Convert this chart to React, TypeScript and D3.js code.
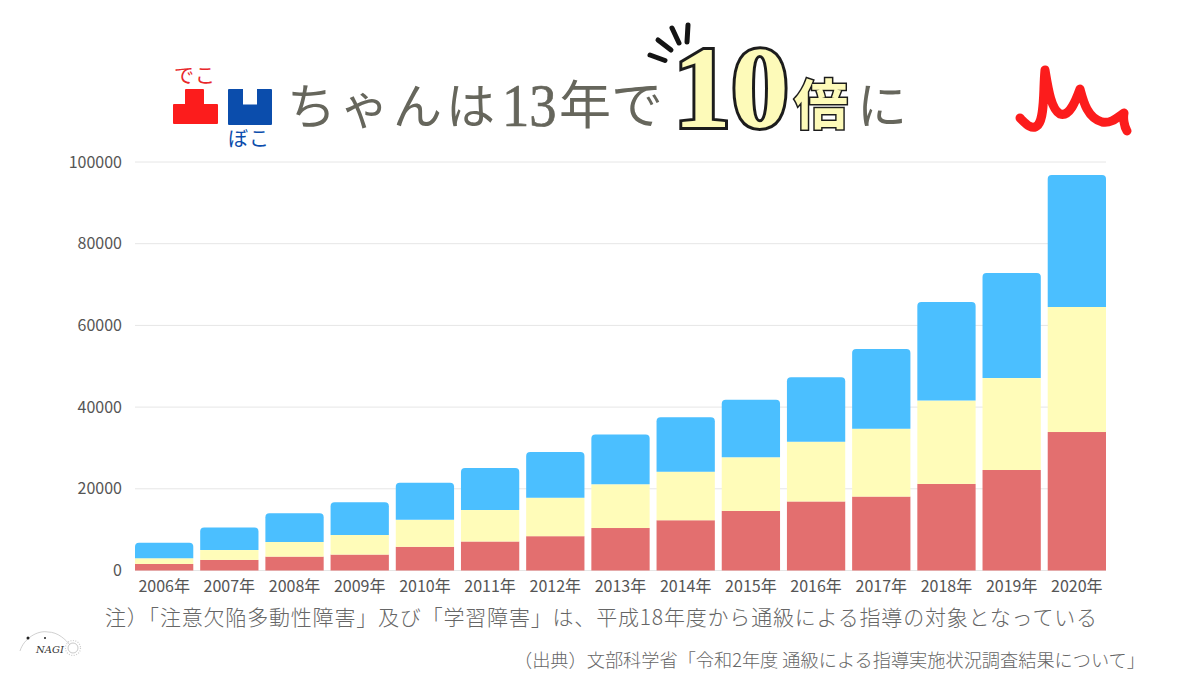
import React, { useRef, useEffect } from 'react';
import * as d3 from 'd3';

const YEARS = ["2006年", "2007年", "2008年", "2009年", "2010年", "2011年", "2012年", "2013年", "2014年", "2015年", "2016年", "2017年", "2018年", "2019年", "2020年"];
const SERIES_KEYS = ["red", "yellow", "blue"];
const RED_VALUES = [1600, 2600, 3400, 3900, 5800, 7100, 8400, 10400, 12300, 14600, 16900, 18100, 21200, 24600, 33900];
const YELLOW_VALUES = [1400, 2400, 3600, 4800, 6600, 7700, 9400, 10700, 11900, 13100, 14600, 16600, 20400, 22500, 30600];
const BLUE_VALUES = [3800, 5500, 7000, 8000, 9100, 10300, 11200, 12200, 13300, 14100, 15800, 19500, 24100, 25700, 32300];
const Y_TICKS = [0, 20000, 40000, 60000, 80000, 100000];

const COLORS: { [key: string]: string } = {
    red: "#e36f6f",
    yellow: "#fffcb9",
    blue: "#4bbfff"
};

const SANS = "'Noto Sans CJK JP', 'Noto Sans', sans-serif";
const SERIF = "'Liberation Serif', 'Noto Sans CJK JP', serif";

const App: React.FC = () => {
    const svgRef = useRef<SVGSVGElement>(null);

    useEffect(() => {
        if (!svgRef.current) return;
        const svg = d3.select(svgRef.current);
        svg.selectAll("*").remove();

        const left = 135, right = 1106, top = 162, bottom = 570.5;

        const x = d3.scaleBand().domain(YEARS).range([left, right]).paddingInner(0.106).paddingOuter(0);
        const y = d3.scaleLinear().domain([0, 100000]).range([bottom, top]);

        // grid
        svg.append("g")
            .selectAll("line")
            .data(Y_TICKS)
            .join("line")
            .attr("x1", left)
            .attr("x2", right)
            .attr("y1", d => y(d))
            .attr("y2", d => y(d))
            .attr("stroke", "#e6e6e6")
            .attr("stroke-width", 1);

        const rows = YEARS.map((year, i) => ({
            year,
            red: RED_VALUES[i],
            yellow: YELLOW_VALUES[i],
            blue: BLUE_VALUES[i]
        }));
        const stacked = d3.stack<any>().keys(SERIES_KEYS)(rows);

        stacked.forEach(layer => {
            const g = svg.append("g");
            layer.forEach(seg => {
                const bx = x(seg.data.year) as number;
                const w = x.bandwidth();
                const y0 = y(seg[0]);
                const y1 = y(seg[1]);
                if (layer.key === "blue") {
                    // only the top of the stack is rounded
                    const r = 4;
                    const p = d3.path();
                    p.moveTo(bx, y0);
                    p.lineTo(bx, y1 + r);
                    p.arcTo(bx, y1, bx + r, y1, r);
                    p.lineTo(bx + w - r, y1);
                    p.arcTo(bx + w, y1, bx + w, y1 + r, r);
                    p.lineTo(bx + w, y0);
                    p.closePath();
                    g.append("path").attr("d", p.toString()).attr("fill", COLORS.blue);
                } else {
                    g.append("rect")
                        .attr("x", bx)
                        .attr("y", y1)
                        .attr("width", w)
                        .attr("height", y0 - y1)
                        .attr("fill", COLORS[layer.key]);
                }
            });
        });

        // axes
        const yAxis = svg.append("g")
            .attr("transform", `translate(${left},0)`)
            .call(d3.axisLeft(y).tickValues(Y_TICKS).tickSize(0).tickPadding(13).tickFormat(d => String(d)));
        yAxis.select(".domain").remove();
        yAxis.selectAll("text")
            .style("font-family", SANS)
            .style("font-size", "16px")
            .style("fill", "#555");

        const xAxis = svg.append("g")
            .attr("transform", `translate(0,${bottom})`)
            .call(d3.axisBottom(x).tickSize(0).tickPadding(10));
        xAxis.select(".domain").remove();
        xAxis.selectAll("text")
            .style("font-family", SANS)
            .style("font-size", "16px")
            .style("fill", "#555");

        // title
        const titleColor = "#66665c";
        svg.append("text")
            .attr("x", 287).attr("y", 124)
            .attr("textLength", 208)
            .attr("lengthAdjust", "spacing")
            .style("font-family", SERIF).style("font-size", "49px").style("font-weight", 400)
            .style("fill", titleColor)
            .text("ちゃんは");
        svg.append("text")
            .attr("transform", "translate(502,125.5) scale(0.88,1)")
            .style("font-family", SERIF).style("font-size", "62px")
            .style("fill", titleColor).style("stroke", titleColor).style("stroke-width", 0.7)
            .text("13");
        svg.append("text")
            .attr("x", 559).attr("y", 124)
            .style("font-family", SERIF).style("font-size", "52px").style("font-weight", 400)
            .style("fill", titleColor)
            .text("年で");

        svg.append("text")
            .attr("x", 673).attr("y", 127)
            .style("font-family", SERIF).style("font-size", "116px").style("font-weight", 700)
            .style("fill", "#fdfab9").style("stroke", "#1c1c1c").style("stroke-width", 6)
            .style("paint-order", "stroke")
            .text("10");
        svg.append("text")
            .attr("x", 794).attr("y", 125)
            .style("font-family", SANS).style("font-size", "54px").style("font-weight", 700)
            .style("fill", "#fdfab9").style("stroke", "#1c1c1c").style("stroke-width", 3)
            .style("paint-order", "stroke")
            .text("倍");
        svg.append("text")
            .attr("x", 857).attr("y", 124)
            .style("font-family", SANS).style("font-size", "50px").style("font-weight", 400)
            .style("fill", titleColor)
            .text("に");

        // burst lines next to the 10
        svg.append("g")
            .attr("stroke", "#141414").attr("stroke-width", 5).attr("stroke-linecap", "round")
            .selectAll("path")
            .data(["M650,55L665,60.5", "M658,40L671,50", "M672,28L679,43", "M688,25L687,42"])
            .join("path")
            .attr("d", d => d);

        // deko boko logo
        svg.append("path")
            .attr("d", "M186,89h17a1,1 0 0 1 1,1v14h13a1,1 0 0 1 1,1v18a1,1 0 0 1 -1,1h-43a1,1 0 0 1 -1,-1v-18a1,1 0 0 1 1,-1h11v-14a1,1 0 0 1 1,-1z")
            .attr("fill", "#fc1c1c");
        svg.append("path")
            .attr("d", "M229,89h14v15.5h14v-15.5h14a1,1 0 0 1 1,1v34a1,1 0 0 1 -1,1h-42a1,1 0 0 1 -1,-1v-34a1,1 0 0 1 1,-1z")
            .attr("fill", "#0b4dac");
        svg.append("text")
            .attr("x", 174).attr("y", 83)
            .attr("textLength", 41)
            .style("font-family", SANS).style("font-size", "20px").style("font-weight", 400).style("fill", "#e8262a")
            .text("でこ");
        svg.append("text")
            .attr("x", 228).attr("y", 146)
            .attr("textLength", 41)
            .style("font-family", SANS).style("font-size", "20px").style("font-weight", 400).style("fill", "#0b4dac")
            .text("ぼこ");

        // red scribble
        svg.append("path")
            .attr("d", "M1020,118C1026,124 1032,131 1038,125C1045,117 1043,90 1045,70C1048,88 1051,109 1060,114C1070,117 1076,100 1080,89C1083,100 1087,118 1102,122C1111,124 1118,117 1124,113C1123,118 1124,126 1127,131")
            .attr("fill", "none")
            .attr("stroke", "#fc1c1c")
            .attr("stroke-width", 9)
            .attr("stroke-linecap", "round")
            .attr("stroke-linejoin", "round");

        // notes
        svg.append("text")
            .attr("x", 105).attr("y", 625)
            .attr("textLength", 992)
            .attr("lengthAdjust", "spacing")
            .style("font-family", SANS).style("font-size", "21px").style("font-weight", 300)
            .style("fill", "#666")
            .text("注）「注意欠陥多動性障害」及び「学習障害」は、平成18年度から通級による指導の対象となっている");
        svg.append("text")
            .attr("x", 1145).attr("y", 667)
            .attr("text-anchor", "end")
            .style("font-family", SANS).style("font-size", "18.2px").style("font-weight", 300)
            .style("fill", "#666")
            .text("（出典）文部科学省「令和2年度 通級による指導実施状況調査結果について」");

        // NAGI mark
        const mark = svg.append("g");
        mark.append("path")
            .attr("d", "M20,651C24,638 38,630 48,632C58,632 66,640 70,645")
            .attr("fill", "none").attr("stroke", "#bbb").attr("stroke-width", 0.7);
        mark.append("circle").attr("cx", 28).attr("cy", 638).attr("r", 1.5).attr("fill", "#222");
        mark.append("circle").attr("cx", 45).attr("cy", 638).attr("r", 1).attr("fill", "#222");
        mark.append("circle").attr("cx", 73).attr("cy", 648).attr("r", 5).attr("fill", "none").attr("stroke", "#bbb").attr("stroke-width", 0.8);
        mark.append("circle").attr("cx", 73).attr("cy", 648).attr("r", 7.5).attr("fill", "none").attr("stroke", "#ccc").attr("stroke-width", 1.2).attr("stroke-dasharray", "1 1.5");
        mark.append("text")
            .attr("x", 36).attr("y", 653)
            .style("font-family", "'DejaVu Serif', serif").style("font-size", "10px").style("font-style", "italic")
            .style("fill", "#333")
            .text("NAGI");
    }, []);

    return (
        <svg
            ref={svgRef}
            width={1200}
            height={675}
            style={{ position: 'absolute', left: 0, top: 0, background: '#fff' }}
        />
    );
};

export default App;
